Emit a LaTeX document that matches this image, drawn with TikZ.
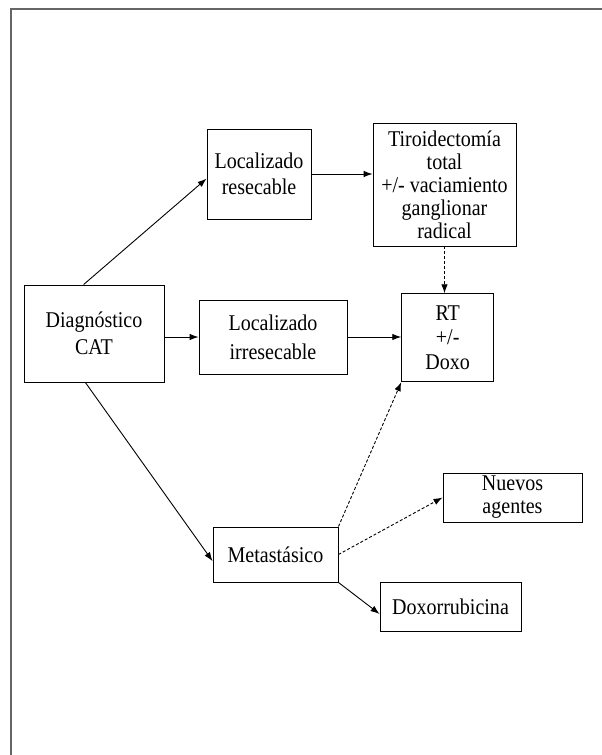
\documentclass[tikz,border=0pt]{standalone}
\usepackage{fontspec}
\setmainfont{Liberation Serif}[FakeStretch=0.89]
\usetikzlibrary{arrows.meta}

\begin{document}
\begin{tikzpicture}[x=1pt,y=-1pt,>={Latex[length=9pt,width=6.5pt]},line width=0.9pt,
	caja/.style={draw,align=center,inner sep=0pt,font=\fontsize{22.5}{23}\selectfont},
	punteada/.style={->,dash pattern=on 3pt off 2pt}]
	\useasboundingbox (0,0) rectangle (602,755);
	\draw[line width=2pt,black!60] (10.5,755) -- (10.5,8.5) -- (602,8.5);
	\node[caja,minimum width=140pt,minimum height=97pt] (diag) at (94,333.5) {Diagnóstico\\[4.3pt]CAT};
	\node[caja,minimum width=104pt,minimum height=90pt] (resec) at (259,174) {Localizado\\[2.7pt]resecable};
	\node[caja,minimum width=143pt,minimum height=123pt] (tiro) at (444.5,184.5) {Tiroidectomía\\total\\+/- vaciamiento\\ganglionar\\radical};
	\node[caja,minimum width=148pt,minimum height=74pt] (irr) at (273,337) {Localizado\\[6pt]irresecable};
	\node[caja,minimum width=92pt,minimum height=88pt] (rt) at (447.7,337.7) {RT\\[1.5pt]+/-\\[1.5pt]Doxo};
	\node[caja,minimum width=125pt,minimum height=55pt] (meta) at (275.5,554.5) {Metastásico};
	\node[caja,minimum width=139pt,minimum height=49pt] (nuevos) at (512.5,497.5) {Nuevos\\agentes};
	\node[caja,minimum width=141pt,minimum height=49pt] (doxo) at (450.5,606.5) {Doxorrubicina};
	\draw[->] (diag.102) -- (resec.185);
	\draw[->] (diag.east |- irr.west) -- (irr.west);
	\draw[->] (diag.260) -- (meta.186);
	\draw[->] (resec.east) -- (resec.east -| tiro.west);
	\draw[->] (irr.east) -- (irr.east -| rt.west);
	\draw[punteada] (tiro.south) -- (tiro.south |- rt.north);
	\draw[punteada] (meta.north east) -- (rt.south west);
	\draw[punteada] (meta.east) -- (nuevos.west);
	\draw[->] (meta.south east) -- (doxo.186);
\end{tikzpicture}
\end{document}
